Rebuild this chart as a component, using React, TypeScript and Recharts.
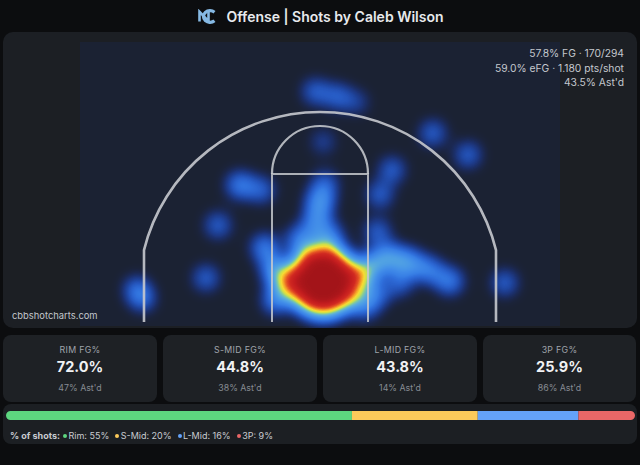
import React from 'react';
import { ScatterChart, Scatter, XAxis, YAxis, CartesianGrid, BarChart, Bar } from 'recharts';

// ---- data ----
const TITLE = 'Offense | Shots by Caleb Wilson';
const SUMMARY_LINES = ['57.8% FG · 170/294', '59.0% eFG · 1.180 pts/shot', "43.5% Ast'd"];
const WATERMARK = 'cbbshotcharts.com';

const ZONES = ['Rim', 'S-Mid', 'L-Mid', '3P'];
const ZONE_CARD_LABELS = ['RIM FG%', 'S-MID FG%', 'L-MID FG%', '3P FG%'];
const ZONE_FG = [72.0, 44.8, 43.8, 25.9];
const ZONE_ASTD = [47, 38, 14, 86];
const ZONE_SHARE = [55, 20, 16, 9];

// shot locations: x = feet from the basket line (left -, right +), y = feet from baseline, n = attempts
const RIM_SPOTS = [
  { x: 0.4, y: 5.6, n: 150 },
  { x: -4.2, y: 5.4, n: 6 },
  { x: 4.9, y: 6.0, n: 6 },
];
const SHORT_MID_SPOTS = [
  { x: 0.0, y: 15.5, n: 4 },
  { x: -0.5, y: 13.0, n: 3 },
  { x: 1.2, y: 11.2, n: 3 },
  { x: -2.5, y: 10.8, n: 3 },
  { x: 0.6, y: 17.8, n: 2 },
  { x: -6.9, y: 9.8, n: 3 },
  { x: -5.6, y: 7.0, n: 4 },
  { x: -5.5, y: 3.2, n: 3 },
  { x: 5.6, y: 2.6, n: 3 },
  { x: 6.5, y: 7.6, n: 4 },
  { x: 7.2, y: 11.8, n: 2 },
  { x: 8.6, y: 8.6, n: 4 },
];
const LONG_MID_SPOTS = [
  { x: 11.0, y: 8.0, n: 4 },
  { x: 13.6, y: 7.0, n: 3 },
  { x: 16.2, y: 5.6, n: 3 },
  { x: 10.0, y: 5.4, n: 2 },
  { x: 7.2, y: 4.0, n: 2 },
  { x: 9.0, y: 19.5, n: 2 },
  { x: 7.5, y: 16.4, n: 2 },
  { x: -10.0, y: 17.6, n: 3 },
  { x: -7.3, y: 17.0, n: 2 },
  { x: -12.75, y: 12.6, n: 2 },
  { x: -14.25, y: 6.0, n: 2 },
  { x: 0.4, y: 23.0, n: 1 },
];
const THREE_SPOTS = [
  { x: -22.9, y: 4.6, n: 2 },
  { x: -22.2, y: 3.4, n: 2 },
  { x: 23.1, y: 5.4, n: 2 },
  { x: -0.6, y: 29.3, n: 2 },
  { x: 2.2, y: 28.7, n: 2 },
  { x: 4.6, y: 28.0, n: 1 },
  { x: 14.1, y: 24.1, n: 2 },
  { x: 18.5, y: 21.4, n: 2 },
];

// ---- court geometry (feet) ----
const X_DOMAIN: [number, number] = [-30, 30];
const Y_DOMAIN: [number, number] = [0, 35.5];
const BASKET_Y = 4.1;
const THREE_R = 22.65;
const CORNER_X = 22;
const LANE_HALF = 6;
const FT_LINE_Y = 19;
const FT_CIRCLE_R = 6;
const LINE_START_Y = 0.5;

// ---- layout ----
const CHART_W = 634;
const CHART_H = 296;
const MARGIN = { top: 10, right: 77, bottom: 2, left: 77 };
const PX_PER_FT = (CHART_W - MARGIN.left - MARGIN.right) / (X_DOMAIN[1] - X_DOMAIN[0]);

const ZONE_COLORS = ['#5dd67f', '#fcca5a', '#64a2f8', '#e96767'];
const PANEL_BG = '#1c1f24';
const COURT_BG = '#1b2233';
const LINE_COLOR = '#c6c9ce';

const heatData = [...RIM_SPOTS, ...SHORT_MID_SPOTS, ...LONG_MID_SPOTS, ...THREE_SPOTS];
const basketData = [{ x: 0, y: BASKET_Y }];
const shareRow: Record<string, number | string> = { label: 'shots' };
ZONES.forEach((z, i) => {
  shareRow[z] = ZONE_SHARE[i];
});

// density colour ramp applied after blurring (input = accumulated alpha)
const RAMP_R = [0.11, 0.1, 0.11, 0.12, 0.13, 0.15, 0.17, 0.19, 0.22, 0.25, 0.28, 0.32, 0.38, 0.52, 0.8, 0.97, 0.96, 0.9, 0.82, 0.76, 0.64];
const RAMP_G = [0.14, 0.2, 0.25, 0.29, 0.33, 0.37, 0.41, 0.45, 0.5, 0.54, 0.59, 0.64, 0.7, 0.8, 0.88, 0.86, 0.62, 0.33, 0.16, 0.11, 0.08];
const RAMP_B = [0.22, 0.6, 0.7, 0.76, 0.8, 0.84, 0.87, 0.89, 0.9, 0.91, 0.91, 0.89, 0.83, 0.6, 0.3, 0.2, 0.16, 0.14, 0.13, 0.12, 0.1];
const RAMP_A = [0, 0.16, 0.36, 0.55, 0.7, 0.82, 0.9, 0.96, 1, 1, 1, 1, 1, 1, 1, 1, 1, 1, 1, 1, 1];

const HeatSpot = (props: any) => {
  const { cx, cy, payload } = props;
  if (cx == null || cy == null) return null;
  const n = payload.n as number;
  const r = 8 + 2.4 * Math.sqrt(n);
  const op = Math.min(1, 0.3 * Math.sqrt(n));
  return <circle cx={cx} cy={cy} r={r} fill="#ffffff" fillOpacity={op} />;
};

const CourtLines = (props: any) => {
  const { cx, cy } = props;
  if (cx == null || cy == null) return null;
  const k = PX_PER_FT;
  const px = (ft: number) => cx + ft * k;
  const py = (ft: number) => cy - (ft - BASKET_Y) * k;
  const base = py(LINE_START_Y);
  const cornerTop = py(BASKET_Y + Math.sqrt(THREE_R * THREE_R - CORNER_X * CORNER_X));
  const arc3 = `M ${px(-CORNER_X)} ${base} L ${px(-CORNER_X)} ${cornerTop} A ${THREE_R * k} ${THREE_R * k} 0 0 1 ${px(CORNER_X)} ${cornerTop} L ${px(CORNER_X)} ${base}`;
  const ft = py(FT_LINE_Y);
  const lane = `M ${px(-LANE_HALF)} ${base} L ${px(-LANE_HALF)} ${ft} L ${px(LANE_HALF)} ${ft} L ${px(LANE_HALF)} ${base}`;
  const ftArc = `M ${px(-FT_CIRCLE_R)} ${ft} A ${FT_CIRCLE_R * k} ${FT_CIRCLE_R * k} 0 0 1 ${px(FT_CIRCLE_R)} ${ft}`;
  return (
    <g fill="none" stroke={LINE_COLOR}>
      <path d={arc3} strokeWidth={2.6} strokeOpacity={0.9} />
      <path d={lane} strokeWidth={2} strokeOpacity={0.85} />
      <path d={ftArc} strokeWidth={2.2} strokeOpacity={0.88} />
    </g>
  );
};

const Logo = () => (
  <svg width={22} height={15} viewBox="0 0 22 15">
    <path d="M18.5 3.2 A6.6 5.8 0 1 0 18.5 11.8" fill="none" stroke="#86b9e4" strokeWidth={3.2} />
    <path d="M3.5 12.5 V2.8 L12.5 12.2 V2.5" fill="none" stroke="#86b9e4" strokeWidth={2.6} />
  </svg>
);

export default function App() {
  const font = 'Inter, "Noto Sans", sans-serif';
  return (
    <div style={{ position: 'relative', width: 640, height: 465, background: '#0c0d0f', overflow: 'hidden', fontFamily: font }}>
      <style>{`body{margin:0;background:#0c0d0f}.heat-layer{filter:url(#heatFx)}`}</style>
      <svg width={0} height={0} style={{ position: 'absolute' }}>
        <defs>
          <filter id="heatFx" x="-30%" y="-30%" width="160%" height="160%" colorInterpolationFilters="sRGB">
            <feGaussianBlur in="SourceAlpha" stdDeviation={9} result="blur" />
            <feColorMatrix in="blur" type="matrix" values="0 0 0 1 0  0 0 0 1 0  0 0 0 1 0  0 0 0 1 0" result="gray" />
            <feComponentTransfer in="gray">
              <feFuncR type="table" tableValues={RAMP_R.join(' ')} />
              <feFuncG type="table" tableValues={RAMP_G.join(' ')} />
              <feFuncB type="table" tableValues={RAMP_B.join(' ')} />
              <feFuncA type="table" tableValues={RAMP_A.join(' ')} />
            </feComponentTransfer>
          </filter>
        </defs>
      </svg>

      {/* title */}
      <div style={{ position: 'absolute', left: 0, top: 6, width: 640, height: 20, display: 'flex', alignItems: 'center', justifyContent: 'center', gap: 8 }}>
        <Logo />
        <span style={{ color: '#e7e9ec', fontSize: 14, fontWeight: 600 }}>{TITLE}</span>
      </div>

      {/* shot map panel */}
      <div style={{ position: 'absolute', left: 3, top: 32, width: CHART_W, height: CHART_H, background: PANEL_BG, borderRadius: 10, overflow: 'hidden' }}>
        <ScatterChart width={CHART_W} height={CHART_H} margin={MARGIN}>
          <CartesianGrid fill={COURT_BG} horizontal={false} vertical={false} stroke="none" />
          <XAxis type="number" dataKey="x" domain={X_DOMAIN} hide />
          <YAxis type="number" dataKey="y" domain={Y_DOMAIN} hide />
          <Scatter data={heatData} dataKey="y" className="heat-layer" shape={HeatSpot} isAnimationActive={false} />
          <Scatter data={basketData} dataKey="y" shape={CourtLines} isAnimationActive={false} />
        </ScatterChart>
        <div style={{ position: 'absolute', right: 13, top: 14, textAlign: 'right', color: '#c4c8ce', fontSize: 10.3, lineHeight: '14.6px' }}>
          {SUMMARY_LINES.map((l) => (
            <div key={l}>{l}</div>
          ))}
        </div>
        <div style={{ position: 'absolute', left: 9, top: 278, color: '#c3c7cd', fontSize: 9.4 }}>{WATERMARK}</div>
      </div>

      {/* zone cards */}
      {ZONES.map((z, i) => (
        <div key={z} style={{ position: 'absolute', left: 3 + i * 160, top: 335, width: i === 3 ? 153 : 154, height: 67, background: '#1e2125', borderRadius: 8, textAlign: 'center' }}>
          <div style={{ position: 'absolute', left: 0, right: 0, top: 9, fontSize: 8.8, color: '#a0a5ac', letterSpacing: 0.3 }}>{ZONE_CARD_LABELS[i]}</div>
          <div style={{ position: 'absolute', left: 0, right: 0, top: 23, fontSize: 14.5, fontWeight: 700, color: '#f1f2f4' }}>{ZONE_FG[i].toFixed(1)}%</div>
          <div style={{ position: 'absolute', left: 0, right: 0, top: 47, fontSize: 8.8, color: '#878c93' }}>{ZONE_ASTD[i]}% Ast'd</div>
        </div>
      ))}

      {/* shot distribution */}
      <div style={{ position: 'absolute', left: 3, top: 404, width: 634, height: 40, background: '#1c1f23', borderRadius: 8 }}>
        <div style={{ position: 'absolute', left: 3, top: 7 }}>
          <BarChart width={629} height={9} data={[shareRow]} layout="vertical" margin={{ top: 0, right: 0, bottom: 0, left: 0 }} barCategoryGap={0}>
            <XAxis type="number" domain={[0, 100]} hide />
            <YAxis type="category" dataKey="label" hide />
            {ZONES.map((z, i) => (
              <Bar
                key={z}
                dataKey={z}
                stackId="share"
                fill={ZONE_COLORS[i]}
                isAnimationActive={false}
                radius={i === 0 ? [4.5, 0, 0, 4.5] : i === ZONES.length - 1 ? [0, 4.5, 4.5, 0] : 0}
              />
            ))}
          </BarChart>
        </div>
        <div style={{ position: 'absolute', left: 7, top: 26, fontSize: 9, color: '#c9ccd1', display: 'flex', alignItems: 'center', whiteSpace: 'nowrap' }}>
          <span style={{ fontWeight: 700, marginRight: 3 }}>% of shots:</span>
          {ZONES.map((z, i) => (
            <span key={z} style={{ display: 'inline-flex', alignItems: 'center', marginRight: 6 }}>
              <span style={{ width: 4, height: 4, borderRadius: 2, background: ZONE_COLORS[i], marginRight: 1.5 }} />
              {z}: {ZONE_SHARE[i]}%
            </span>
          ))}
        </div>
      </div>
    </div>
  );
}
